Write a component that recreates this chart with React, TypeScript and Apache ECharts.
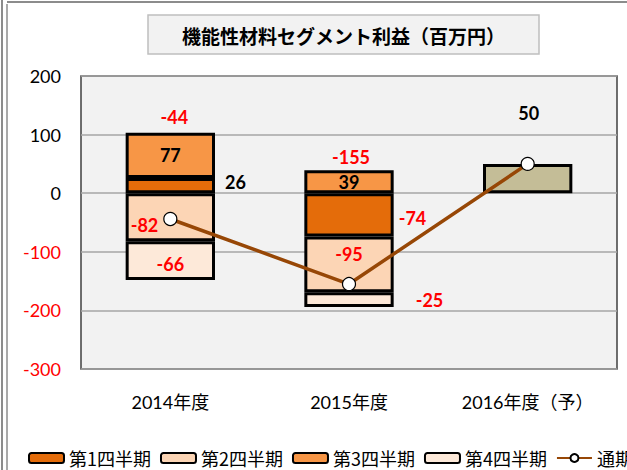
import React, { useEffect, useRef } from "react";
import * as echarts from "echarts";

const categories = ["2014年度", "2015年度", "2016年度（予）"];
const q1 = [26, -74, null];
const q2 = [-82, -95, null];
const q3 = [77, 39, null];
const q4 = [-66, -25, null];
const forecast = [null, null, 50];
const total = [-44, -155, 50];
const yTicks = [-300, -200, -100, 0, 100, 200];

const seriesNames = ["第1四半期", "第2四半期", "第3四半期", "第4四半期", "通期"];
const titleText = "機能性材料セグメント利益（百万円）";

const NUM_FONT = "Lato, 'Noto Sans CJK JP', sans-serif";
const CJK_FONT = "'Noto Sans CJK JP', sans-serif";

export default function App() {
  const ref = useRef<HTMLDivElement>(null);
  useEffect(() => {
    if (!ref.current) return;
    const chart = echarts.init(ref.current, null, { renderer: "svg" });

    const valColor = (v: number) => (v < 0 ? "#FF0000" : "#000000");
    const baseLabel = {
      show: true,
      fontFamily: NUM_FONT,
      fontWeight: "bold" as const,
      fontSize: 18,
    };
    const mk = (vals: (number | null)[], labelFor: (i: number) => any) =>
      vals.map((v, i) =>
        v === null
          ? "-"
          : { value: v, label: { ...baseLabel, color: valColor(v), ...labelFor(i) } }
      );

    const q1Labels = [
      { position: "right", distance: 10, offset: [0, -4] },
      { position: "right", distance: 5, offset: [0, 3] },
    ];
    const q2Labels = [
      { position: "insideLeft", distance: 5, offset: [0, 8] },
      { position: "inside", offset: [0, -10] },
    ];
    const q3Labels = [{ position: "inside" }, { position: "inside" }];
    const q4Labels = [
      { position: "inside", offset: [0, 3] },
      { position: "right", distance: 22 },
    ];
    const fcLabels = [null, null, { position: "inside", show: false }];
    const totalLabels = [
      { position: "inside", offset: [4, -102] },
      { position: "inside", offset: [2, -127] },
      { position: "inside", offset: [1, -51] },
    ];

    const barCommon = {
      type: "bar",
      stack: "s",
      barWidth: "50%",
      itemStyle: { borderColor: "#000", borderWidth: 3 },
    };

    const option: any = {
      animation: false,
      backgroundColor: "#ffffff",
      grid: {
        show: true,
        left: 81,
        right: 10,
        top: 76,
        bottom: 101,
        backgroundColor: "#F2F2F2",
        borderColor: "#404040",
        borderWidth: 1.5,
      },
      xAxis: {
        type: "category",
        data: categories,
        axisLine: { show: false },
        axisTick: { show: false },
        axisLabel: {
          margin: 24,
          fontSize: 18,
          color: "#000",
          fontFamily: NUM_FONT,
        },
      },
      yAxis: {
        type: "value",
        min: yTicks[0],
        max: yTicks[yTicks.length - 1],
        interval: 100,
        axisLine: { show: false },
        axisTick: { show: false },
        splitLine: { lineStyle: { color: "#A6A6A6", width: 1.5 } },
        axisLabel: {
          margin: 20,
          fontSize: 18,
          fontFamily: NUM_FONT,
          color: (v: any) => (Number(v) < 0 ? "#FF0000" : "#000000"),
        },
      },
      legend: {
        data: seriesNames,
        left: 28,
        top: 448,
        padding: 0,
        width: 900,
        itemGap: 9,
        itemWidth: 35,
        itemHeight: 10,
        textStyle: {
          fontSize: 18,
          lineHeight: 20,
          fontFamily: CJK_FONT,
          color: "#000",
        },
      },
      series: [
        {
          ...barCommon,
          name: seriesNames[0],
          data: mk(q1, (i) => q1Labels[i]),
          itemStyle: { ...barCommon.itemStyle, color: "#E46C0A" },
        },
        {
          ...barCommon,
          name: seriesNames[1],
          data: mk(q2, (i) => q2Labels[i]),
          itemStyle: { ...barCommon.itemStyle, color: "#FCD5B5" },
        },
        {
          ...barCommon,
          name: seriesNames[2],
          data: mk(q3, (i) => q3Labels[i]),
          itemStyle: { ...barCommon.itemStyle, color: "#F79646" },
        },
        {
          ...barCommon,
          name: seriesNames[3],
          data: mk(q4, (i) => q4Labels[i]),
          itemStyle: { ...barCommon.itemStyle, color: "#FDE9D9" },
        },
        {
          ...barCommon,
          name: "予想",
          data: mk(forecast, (i) => fcLabels[i]),
          itemStyle: { ...barCommon.itemStyle, color: "#C4BD97" },
        },
        {
          type: "line",
          name: seriesNames[4],
          z: 5,
          data: mk(total, (i) => totalLabels[i]),
          symbol: "circle",
          symbolSize: 13,
          lineStyle: { color: "#974706", width: 3.5 },
          itemStyle: { color: "#FFFFFF", borderColor: "#000", borderWidth: 1.2 },
        },
      ],
      graphic: [
        {
          type: "line",
          shape: { x1: 2, y1: 0, x2: 2, y2: 470 },
          style: { stroke: "#8C8C8C", lineWidth: 2 },
          silent: true,
        },
        {
          type: "line",
          shape: { x1: 7, y1: 4, x2: 7, y2: 470 },
          style: { stroke: "#8C8C8C", lineWidth: 1.5 },
          silent: true,
        },
        {
          type: "line",
          shape: { x1: 7, y1: 2, x2: 627, y2: 2 },
          style: { stroke: "#8C8C8C", lineWidth: 2 },
          silent: true,
        },
        {
          type: "rect",
          shape: { x: 148, y: 15, width: 391, height: 39 },
          style: { fill: "#F2F2F2", stroke: "#BFBFBF", lineWidth: 1.5 },
          silent: true,
        },
        {
          type: "text",
          x: 343.5,
          y: 35,
          style: {
            text: titleText,
            fill: "#000",
            font: "bold 19px 'Noto Sans CJK JP', sans-serif",
            align: "center",
            verticalAlign: "middle",
          },
          silent: true,
        },
      ],
    };
    chart.setOption(option);
    return () => chart.dispose();
  }, []);
  return (
    <div
      ref={ref}
      style={{ position: "fixed", left: 0, top: 0, width: 627, height: 470 }}
    />
  );
}
